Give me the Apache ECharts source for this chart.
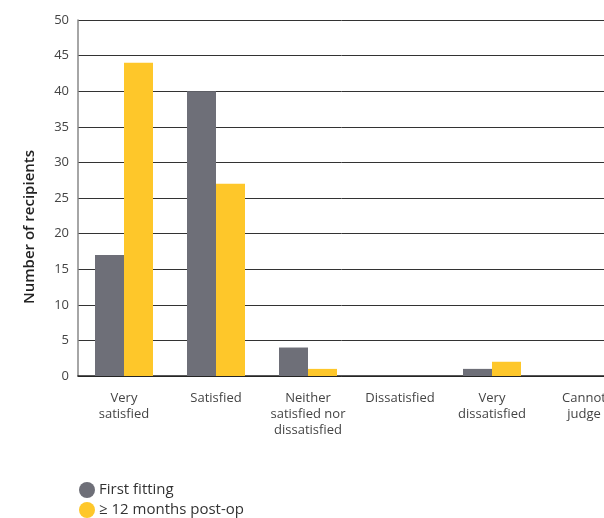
<!DOCTYPE html>
<html><head><meta charset="utf-8">
<script src="https://cdn.jsdelivr.net/npm/echarts@6/dist/echarts.min.js"></script>
<style>html,body{margin:0;padding:0;background:#fff}#c{width:604px;height:518px}</style>
</head><body><div id="c"></div>
<script>
var categories = ['Very\nsatisfied', 'Satisfied', 'Neither\nsatisfied nor\ndissatisfied', 'Dissatisfied', 'Very\ndissatisfied', 'Cannot\njudge'];
var firstFitting = [17, 40, 4, 0, 1, 0];
var postOp = [44, 27, 1, 0, 2, 0];
var seriesNames = ['First fitting', '\u2265 12 months post-op'];
var yTicks = {min: 0, max: 50, interval: 5};

var chart = echarts.init(document.getElementById('c'));
var font = 'Open Sans';
var legendBase = {
  orient: 'horizontal', left: 74, icon: 'circle', itemWidth: 16, itemHeight: 16, itemGap: 6,
  textStyle: {fontSize: 15, color: '#333', fontFamily: font, padding: [0, 0, 0, -1]}
};
chart.setOption({
  animation: false,
  textStyle: {fontFamily: font},
  grid: {left: 78, top: 20, width: 552, height: 356, outerBoundsMode: 'none', containLabel: false},
  legend: [
    Object.assign({}, legendBase, {top: 477, data: [seriesNames[0]]}),
    Object.assign({}, legendBase, {top: 497, data: [seriesNames[1]]})
  ],
  xAxis: {
    type: 'category', data: categories,
    axisLine: {lineStyle: {color: '#222', width: 1.5}},
    axisTick: {show: false},
    axisLabel: {interval: 0, fontSize: 13, color: '#444', lineHeight: 16, margin: 14, fontFamily: font}
  },
  yAxis: {
    type: 'value', min: yTicks.min, max: yTicks.max, interval: yTicks.interval,
    name: 'Number of recipients', nameLocation: 'middle', nameGap: 41,
    nameTextStyle: {fontSize: 15, color: '#222', fontWeight: 600, fontFamily: font, padding: [0, 58, 0, 0]},
    axisLine: {show: true, lineStyle: {color: '#888', width: 1.5}},
    axisTick: {show: false},
    axisLabel: {fontSize: 13, color: '#444', margin: 9, fontFamily: font},
    splitLine: {lineStyle: {color: '#333', width: 1}}
  },
  series: [
    {name: seriesNames[0], type: 'bar', data: firstFitting, barWidth: 29, barGap: '0%', itemStyle: {color: '#6e6f78'}},
    {name: seriesNames[1], type: 'bar', data: postOp, barWidth: 29, barGap: '0%', itemStyle: {color: '#fec72a'}}
  ]
});
</script></body></html>
